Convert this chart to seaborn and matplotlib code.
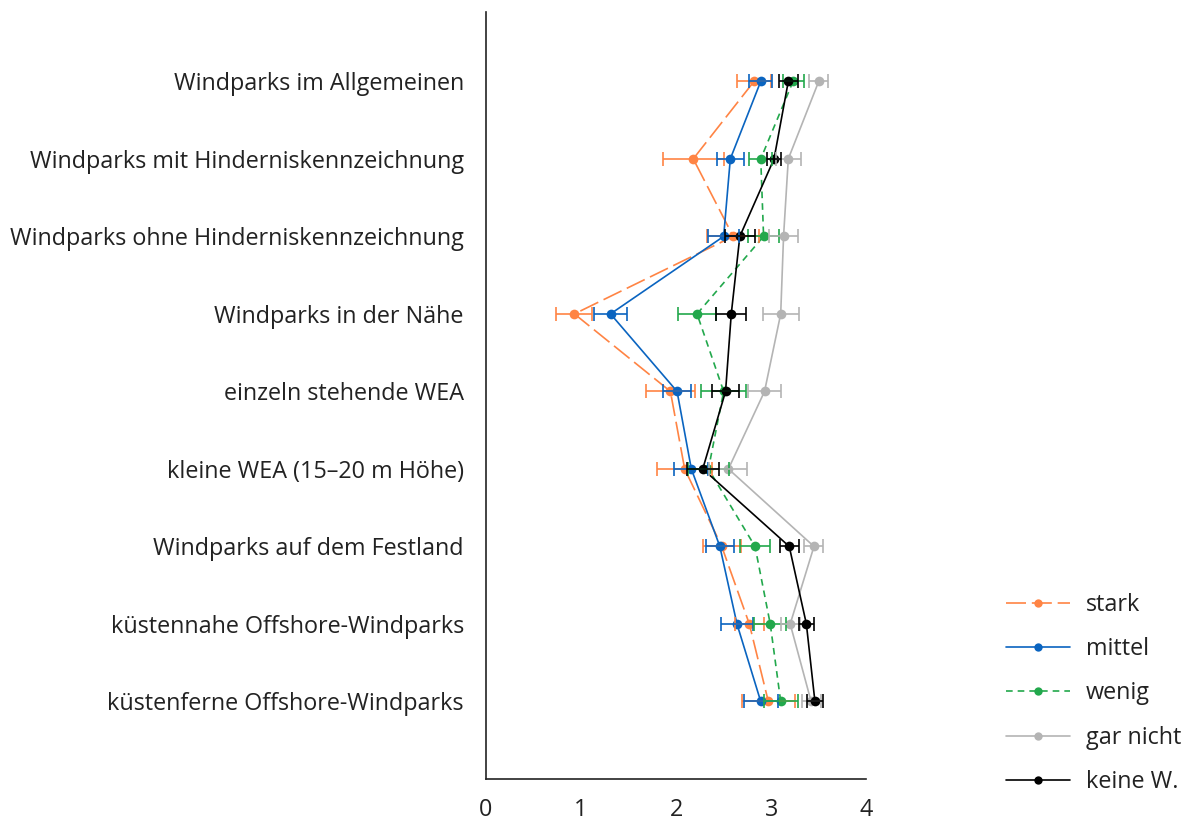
import matplotlib
matplotlib.use("Agg")
import matplotlib.pyplot as plt
import seaborn as sns
import pandas as pd

# --- Daten ---
kategorien = [
    "Windparks im Allgemeinen",
    "Windparks mit Hinderniskennzeichnung",
    "Windparks ohne Hinderniskennzeichnung",
    "Windparks in der Nähe",
    "einzeln stehende WEA",
    "kleine WEA (15–20 m Höhe)",
    "Windparks auf dem Festland",
    "küstennahe Offshore-Windparks",
    "küstenferne Offshore-Windparks",
]
gruppen = ["stark", "mittel", "wenig", "gar nicht", "keine W."]

stark = [2.82, 2.18, 2.60, 0.93, 1.94, 2.09, 2.48, 2.77, 2.97]
mittel = [2.89, 2.57, 2.50, 1.31, 2.01, 2.16, 2.46, 2.64, 2.89]
wenig = [3.23, 2.89, 2.92, 2.22, 2.50, 2.34, 2.83, 2.99, 3.10]
gar_nicht = [3.50, 3.18, 3.13, 3.10, 2.93, 2.55, 3.45, 3.20, 3.42]
keine_w = [3.18, 3.03, 2.67, 2.58, 2.52, 2.28, 3.19, 3.37, 3.46]

err_stark = [0.18, 0.32, 0.27, 0.19, 0.26, 0.29, 0.20, 0.15, 0.28]
err_mittel = [0.12, 0.14, 0.16, 0.17, 0.15, 0.18, 0.15, 0.17, 0.18]
err_wenig = [0.11, 0.12, 0.16, 0.20, 0.24, 0.22, 0.16, 0.17, 0.18]
err_gar_nicht = [0.10, 0.13, 0.15, 0.19, 0.17, 0.20, 0.10, 0.10, 0.10]
err_keine_w = [0.10, 0.07, 0.16, 0.16, 0.14, 0.17, 0.10, 0.08, 0.08]

werte = [stark, mittel, wenig, gar_nicht, keine_w]
fehler = [err_stark, err_mittel, err_wenig, err_gar_nicht, err_keine_w]

farben = {
    "stark": "#FF8444",
    "mittel": "#0A64C0",
    "wenig": "#22A84C",
    "gar nicht": "#B4B4B4",
    "keine W.": "#000000",
}
striche = {
    "stark": (12, 3.5),
    "mittel": "",
    "wenig": (4, 3),
    "gar nicht": "",
    "keine W.": "",
}

rows = []
for g, vals, errs in zip(gruppen, werte, fehler):
    for i, (v, e) in enumerate(zip(vals, errs)):
        rows.append({"gruppe": g, "pos": i, "wert": v, "fehler": e})
df = pd.DataFrame(rows)

# --- Plot ---
sns.set_style("white")
plt.rcParams["font.family"] = ["Open Sans", "DejaVu Sans"]
FS = 16.8

fig = plt.figure(figsize=(11.81, 8.24), dpi=100)
ax = fig.add_axes([0.4115, 0.0546, 0.322, 0.9304])

sns.lineplot(
    data=df, x="wert", y="pos", hue="gruppe", style="gruppe",
    hue_order=gruppen, style_order=gruppen,
    palette=farben, dashes=striche, markers={g: "o" for g in gruppen},
    markersize=7, markeredgewidth=0, linewidth=1.2,
    orient="y", sort=True, errorbar=None, ax=ax, legend=True,
)

for g in gruppen:
    sub = df[df["gruppe"] == g]
    ax.errorbar(sub["wert"], sub["pos"], xerr=sub["fehler"], fmt="none",
                ecolor=farben[g], elinewidth=1.2, capsize=5, capthick=1.2)

ax.set_xlim(0, 4)
ax.set_ylim(len(kategorien) - 1 + 1.0, -0.89)
ax.set_xticks([0, 1, 2, 3, 4])
ax.set_yticks(range(len(kategorien)))
ax.set_yticklabels(kategorien)
ax.set_xlabel("")
ax.set_ylabel("")
sns.despine(ax=ax)
for s in ["left", "bottom"]:
    ax.spines[s].set_color("#222222")
    ax.spines[s].set_linewidth(1.2)
ax.tick_params(axis="both", direction="out", length=9, width=1.2,
               colors="#222222", labelsize=FS, labelcolor="#222222")
ax.tick_params(axis="y", pad=7)
ax.tick_params(axis="x", pad=5)

handles, labels = ax.get_legend_handles_labels()
for h in handles:
    h.set_markersize(6)
ax.legend(handles, labels, loc="lower left",
          bbox_to_anchor=(0.8435, 0.025), bbox_transform=fig.transFigure,
          frameon=False, fontsize=FS, handlelength=2.75, handletextpad=0.7,
          labelspacing=0.87, borderaxespad=0.0, labelcolor="#222222")

fig.savefig("out.png", dpi=100)
